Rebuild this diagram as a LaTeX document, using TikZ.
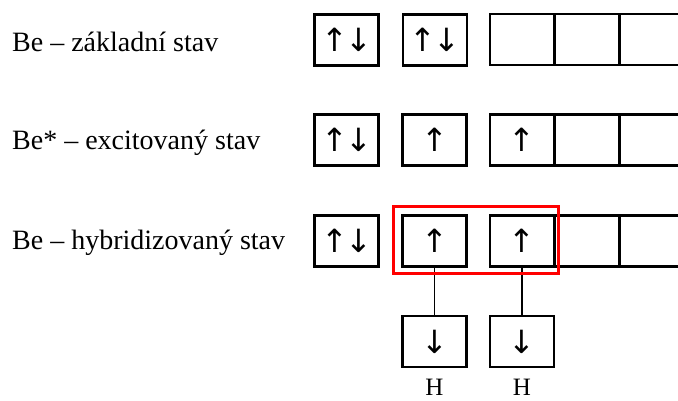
\documentclass[tikz,border=0pt]{standalone}
\usepackage{fontspec}
\setmainfont{Liberation Serif}
\newfontfamily\arrowfont{DejaVu Sans}
\begin{document}
\begin{tikzpicture}[x=1pt,y=-1pt,
  orb/.style={draw,line width=2.4pt,minimum width=64pt,minimum height=51pt,inner sep=0pt,font=\arrowfont\fontsize{32}{34}\selectfont},
  lbl/.style={anchor=west,inner sep=0pt,font=\fontsize{28}{32}\selectfont},
  hl/.style={inner sep=0pt,font=\fontsize{25}{30}\selectfont},
  con/.style={line width=1.8pt},
  hyb/.style={draw=red,line width=2.8pt}]
\useasboundingbox (0,0) rectangle (678,401);
% labels
\node[lbl] (t1) at (12,42) {Be – základní stav};
\node[lbl] (t2) at (12,143) {Be* – excitovaný stav};
\node[lbl] (t3) at (12,243) {Be – hybridizovaný stav};
% row 1
\node[orb] (a1) at (346.5,40) {↑\kern-3pt↓};
\node[orb] (a2) at (435,40) {↑\kern-3pt↓};
\node[orb] (a3) at (522,39.5) {};
\node[orb] (a4) at (587,39.5) {};
\node[orb] (a5) at (651.5,39.5) {};
% row 2
\node[orb] (b1) at (346.5,140) {↑\kern-3pt↓};
\node[orb] (b2) at (434.5,140) {↑};
\node[orb] (b3) at (522,140) {↑};
\node[orb] (b4) at (587,140) {};
\node[orb] (b5) at (651.5,140) {};
% row 3
\node[orb] (c1) at (346.5,241) {↑\kern-3pt↓};
\node[orb] (c2) at (434.5,241) {↑};
\node[orb] (c3) at (522,241) {↑};
\node[orb] (c4) at (587,241) {};
\node[orb] (c5) at (651.5,241) {};
% hydrogen
\node[orb] (d1) at (434.5,341.5) {↓};
\node[orb] (d2) at (522,341.5) {↓};
\node[hl] (h1) at (434.5,387.5) {H};
\node[hl] (h2) at (522,387.5) {H};
% connectors
\draw[con] (c2.south) -- (d1.north);
\draw[con] (c3.south) -- (d2.north);
% hybrid frame
\draw[hyb] ([xshift=-7.5pt,yshift=8pt]c2.north west) rectangle ([xshift=3pt,yshift=-6pt]c3.south east);
\end{tikzpicture}
\end{document}
